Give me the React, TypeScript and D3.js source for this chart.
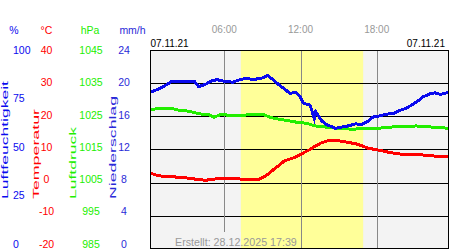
import React from "react";
import * as d3 from "d3";

const dayLabel = "07.11.21";
const hourTicks = ["06:00", "12:00", "18:00"];
const sunrise = "07:18";
const sunset = "16:56";
const createdText = "Erstellt: 28.12.2025 17:39";

const humTicks = [100, 75, 50, 25, 0];
const tempTicks = [40, 30, 20, 10, 0, -10, -20];
const presTicks = [1045, 1035, 1025, 1015, 1005, 995, 985];
const rainTicks = [24, 20, 16, 12, 8, 4, 0];

const humTimes = ["00:10","00:55","01:20","01:50","03:40","03:58","04:30","05:00","05:25","05:55","06:40","07:15","07:45","08:15","08:55","09:25","09:50","10:15","10:40","11:10","11:40","11:58","12:15","12:45","13:05","13:12","13:25","13:40","14:05","14:28","14:45","15:45","16:20","16:50","17:15","17:45","18:00","18:40","19:20","19:50","20:20","20:45","21:10","21:40","22:10","22:35","23:00","23:40"];
const humValues = [78.5,80.5,81.9,83.9,83.9,81.4,82.5,84.2,84.9,84.2,83.6,84.9,85.6,84.9,85.6,86.9,84.9,82.6,80.6,78.0,78.5,76.3,73.0,72.2,65.5,68.8,66.7,64.2,62.2,61.3,60.5,61.7,62.7,62.5,63.8,66.3,66.3,67.5,68.0,69.5,70.5,72.2,73.8,76.3,77.7,78.3,77.5,78.5];

const presTimes = ["00:10","00:50","01:50","02:20","03:05","03:40","04:10","04:50","05:10","05:45","06:35","07:25","08:10","09:10","09:40","10:15","10:50","11:45","12:30","13:10","13:55","14:55","16:10","16:55","17:30","18:40","19:50","21:10","22:15","23:40"];
const presValues = [1026.8,1027.3,1027.3,1026.8,1026.5,1026.0,1025.6,1025.3,1024.6,1025.5,1025.1,1025.1,1025.6,1025.3,1024.5,1024.1,1023.7,1023.1,1022.8,1022.0,1021.7,1021.3,1021.0,1021.3,1021.1,1021.5,1021.9,1022.0,1021.7,1021.3];

const tempTimes = ["00:10","00:50","01:50","02:50","03:50","04:30","05:15","05:45","07:15","08:45","09:10","09:35","10:00","10:20","10:45","11:10","11:35","11:55","12:10","12:40","13:10","13:40","14:10","14:40","15:25","16:20","16:50","17:20","17:50","18:30","19:05","19:50","20:50","21:55","22:45","23:40"];
const tempValues = [2.8,2.0,1.75,1.45,0.96,0.66,1.05,1.26,1.05,1.05,1.75,2.95,4.27,5.26,6.56,7.07,7.6,8.3,8.78,9.77,10.98,11.97,12.57,12.78,12.27,11.67,11.07,10.28,9.98,9.47,8.96,8.57,8.57,8.18,7.88,7.85];

const toH = (t: string) => {
  const [h, m] = t.split(":").map(Number);
  return h + m / 60;
};

const FONT = "'Liberation Sans', Arial, sans-serif";
const BLUE = "#0a0aee";
const GREEN = "#22ee00";
const RED = "#ff0000";
const BLUE2 = "#2a2ad8";

export default function App() {
  const L = 150, R = 449, T = 50, B = 249;
  const x = d3.scaleLinear().domain([0, 24]).range([148.1, 452.9]);
  const yT = d3.scaleLinear().domain([-20, 40]).range([B, 49.5]);
  const yH = d3.scaleLinear().domain([0, 100]).range([B, 49.5]);
  const yP = d3.scaleLinear().domain([985, 1045]).range([B, 49.5]);
  const labT = d3.scaleLinear().domain([-20, 40]).range([244, 50.3]);
  const labH = d3.scaleLinear().domain([0, 100]).range([244, 50.3]);
  const labP = d3.scaleLinear().domain([985, 1045]).range([244, 50.3]);
  const labR = d3.scaleLinear().domain([0, 24]).range([244, 50.3]);

  const mk = (ys: d3.ScaleLinear<number, number>) =>
    d3
      .line<[string, number]>()
      .x((d) => x(toH(d[0])))
      .y((d) => ys(d[1]));

  const humPath = mk(yH)(humTimes.map((t, i) => [t, humValues[i]]));
  const presPath = mk(yP)(presTimes.map((t, i) => [t, presValues[i]]));
  const tempPath = mk(yT)(tempTimes.map((t, i) => [t, tempValues[i]]));

  const fs = 10.5;
  return (
    <svg width={450} height={250} style={{ position: "absolute", left: 0, top: 0, background: "#fff" }} fontFamily={FONT}>
      <defs>
        <clipPath id="plotclip">
          <rect x={L} y={T} width={R - L} height={B - T} />
        </clipPath>
      </defs>
      <text x={14} y={33.5} fontSize={fs} fill={BLUE} textAnchor="middle">%</text>
      <text x={46.5} y={33.5} fontSize={fs} fill={RED} textAnchor="middle">°C</text>
      <text x={90} y={33.5} fontSize={fs} fill={GREEN} textAnchor="middle">hPa</text>
      <text x={132.5} y={33.5} fontSize={fs} fill={BLUE2} textAnchor="middle">mm/h</text>

      {humTicks.map((v) => (
        <text key={"h" + v} x={13} y={labH(v) + 3.7} fontSize={fs} fill={BLUE} textAnchor="start">{v}</text>
      ))}
      {tempTicks.map((v) => (
        <text key={"t" + v} x={46.5} y={labT(v) + 3.7} fontSize={fs} fill={RED} textAnchor="middle">{v}</text>
      ))}
      {presTicks.map((v) => (
        <text key={"p" + v} x={91} y={labP(v) + 3.7} fontSize={fs} fill={GREEN} textAnchor="middle">{v}</text>
      ))}
      {rainTicks.map((v) => (
        <text key={"r" + v} x={124} y={labR(v) + 3.7} fontSize={fs} fill={BLUE2} textAnchor="middle">{v}</text>
      ))}

      <text transform="translate(8,199) rotate(-90)" fontSize={9} fill={BLUE} textLength={118} lengthAdjust="spacingAndGlyphs">Luftfeuchtigkeit</text>
      <text transform="translate(38.5,199) rotate(-90)" fontSize={9} fill={RED} textLength={90} lengthAdjust="spacingAndGlyphs">Temperatur</text>
      <text transform="translate(76,199) rotate(-90)" fontSize={9} fill={GREEN} textLength={72} lengthAdjust="spacingAndGlyphs">Luftdruck</text>
      <text transform="translate(115.5,199) rotate(-90)" fontSize={9} fill={BLUE2} textLength={103} lengthAdjust="spacingAndGlyphs">Niederschlag</text>

      {hourTicks.map((h) => (
        <text key={"ht" + h} x={x(toH(h))} y={33.3} fontSize={10} fill="#999" textAnchor="middle">{h}</text>
      ))}
      <text x={150.5} y={46.5} fontSize={10} fill="#000">{dayLabel}</text>
      <text x={445} y={46.5} fontSize={10} fill="#000" textAnchor="end">{dayLabel}</text>

      <rect x={L} y={T} width={R - L} height={B - T} fill="#f3f3f3" />
      <rect x={x(toH(sunrise))} y={T} width={x(toH(sunset)) - x(toH(sunrise))} height={B - T} fill="#ffff99" />
      {tempTicks.filter((v) => v !== 40 && v !== -20).map((v) => (
        <line key={"g" + v} x1={L} x2={R} y1={Math.round(yT(v)) + 0.5} y2={Math.round(yT(v)) + 0.5} stroke="#000" strokeWidth={1} />
      ))}
      {hourTicks.map((h) => (
        <line key={"v" + h} x1={Math.round(x(toH(h))) + 0.5} x2={Math.round(x(toH(h))) + 0.5} y1={T} y2={B} stroke="#888" strokeWidth={1} />
      ))}
      <rect x={172} y={232} width={x(toH(sunrise)) - 172} height={16} fill="#f3f3f3" />
      <g clipPath="url(#plotclip)" shapeRendering="crispEdges">
        <path d={presPath || ""} fill="none" stroke={GREEN} strokeWidth={3} strokeLinejoin="miter" />
        <path d={tempPath || ""} fill="none" stroke={RED} strokeWidth={3} strokeLinejoin="miter" />
        <path d={humPath || ""} fill="none" stroke={BLUE} strokeWidth={3} strokeLinejoin="miter" />
      </g>
      <text x={175} y={245.5} fontSize={10.7} fill="#999">{createdText}</text>
      <rect x={L + 0.5} y={T + 0.5} width={R - L - 1} height={B - T - 1} fill="none" stroke="#000" strokeWidth={1} />
    </svg>
  );
}
